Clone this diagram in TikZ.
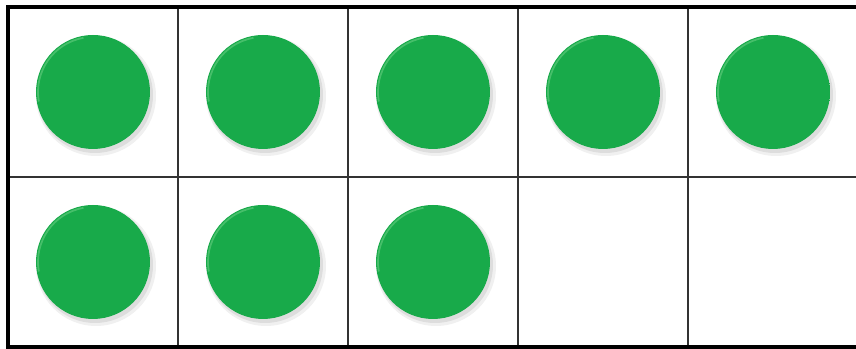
\documentclass[tikz,border=0pt]{standalone}
\usepackage{xcolor}
\usetikzlibrary{positioning}

\definecolor{countergreen}{RGB}{24,170,74}
\definecolor{counterrim}{RGB}{12,140,58}
\definecolor{counterlight}{RGB}{90,200,120}
\pgfdeclareradialshading{counterfill}{\pgfpoint{0bp}{0bp}}{%
  color(0bp)=(countergreen); color(40bp)=(countergreen);
  color(47bp)=(counterrim); color(50bp)=(counterrim)}

\tikzset{
  gridline/.style={line width=0.6pt, black!80},
  frameline/.style={line width=0.9pt, black},
  counter/.style={shading=counterfill},
}

\begin{document}
\begin{tikzpicture}[x=0.01cm,y=0.01cm]
    \useasboundingbox[fill=white] (0,0) rectangle (856,349);

    % counters: five in the top row, three in the bottom row
    \foreach \cx/\cy in {93/257, 263/257, 433/257, 603/257, 773/257,
                         93/87, 263/87, 433/87} {
      \fill[black, opacity=0.06] (\cx+3,\cy-4) circle (60);
      \fill[black, opacity=0.08] (\cx+2,\cy-3) circle (58);
      \shade[counter] (\cx,\cy) circle (57);
      \draw[counterlight, line width=0.5pt, opacity=0.7]
        (\cx,\cy) ++(100:55) arc (100:190:55);
    }

    % inner grid lines
    \foreach \gx in {178,348,518,688} {
      \draw[gridline] (\gx,2) -- (\gx,342);
    }
    \draw[gridline] (8,172) -- (858,172);

    % outer frame
    \draw[frameline] (8,2) rectangle (858,342);
  \end{tikzpicture}
\end{document}
